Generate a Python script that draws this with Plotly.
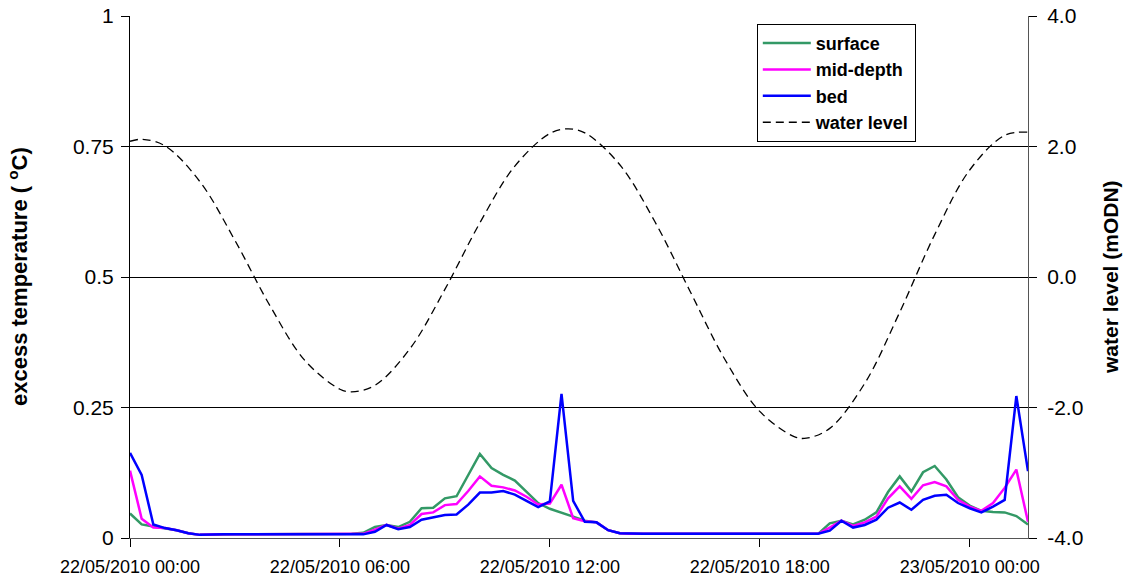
import pandas as pd
import plotly.graph_objects as go

# 20-minute temperature record, 22/05/2010 00:00 to 23/05/2010 01:40
times = pd.date_range("2010-05-22 00:00", periods=78, freq="20min")

surface = [0.047, 0.026, 0.022, 0.019, 0.015, 0.009, 0.006, 0.006, 0.007, 0.007,
           0.007, 0.007, 0.007, 0.007, 0.007, 0.007, 0.007, 0.007, 0.007, 0.008,
           0.010, 0.021, 0.025, 0.021, 0.031, 0.057, 0.058, 0.076, 0.080, 0.120,
           0.161, 0.134, 0.121, 0.110, 0.089, 0.067, 0.056, 0.049, 0.041, 0.033,
           0.030, 0.015, 0.009, 0.008, 0.008, 0.008, 0.008, 0.008, 0.008, 0.008,
           0.008, 0.008, 0.008, 0.008, 0.008, 0.008, 0.008, 0.008, 0.008, 0.008,
           0.028, 0.033, 0.026, 0.035, 0.049, 0.088, 0.118, 0.089, 0.126, 0.138,
           0.112, 0.078, 0.062, 0.052, 0.050, 0.049, 0.042, 0.026]

mid_depth = [0.129, 0.037, 0.020, 0.019, 0.015, 0.009, 0.006, 0.007, 0.007, 0.007,
             0.007, 0.007, 0.007, 0.007, 0.007, 0.007, 0.007, 0.007, 0.007, 0.007,
             0.008, 0.016, 0.025, 0.018, 0.025, 0.046, 0.049, 0.063, 0.065, 0.090,
             0.118, 0.100, 0.097, 0.091, 0.079, 0.064, 0.066, 0.102, 0.038, 0.032,
             0.030, 0.015, 0.009, 0.008, 0.008, 0.008, 0.008, 0.008, 0.008, 0.008,
             0.008, 0.008, 0.008, 0.008, 0.008, 0.008, 0.008, 0.008, 0.008, 0.008,
             0.020, 0.033, 0.023, 0.030, 0.041, 0.076, 0.099, 0.075, 0.101, 0.107,
             0.099, 0.073, 0.060, 0.052, 0.067, 0.096, 0.131, 0.031]

bed = [0.163, 0.121, 0.026, 0.019, 0.015, 0.009, 0.006, 0.007, 0.007, 0.007,
       0.007, 0.007, 0.007, 0.007, 0.007, 0.007, 0.007, 0.007, 0.007, 0.007,
       0.007, 0.012, 0.025, 0.017, 0.021, 0.035, 0.039, 0.044, 0.045, 0.064,
       0.087, 0.087, 0.090, 0.083, 0.071, 0.059, 0.070, 0.276, 0.071, 0.031,
       0.030, 0.015, 0.009, 0.008, 0.008, 0.008, 0.008, 0.008, 0.008, 0.008,
       0.008, 0.008, 0.008, 0.008, 0.008, 0.008, 0.008, 0.008, 0.008, 0.008,
       0.014, 0.033, 0.020, 0.025, 0.035, 0.058, 0.068, 0.054, 0.073, 0.081,
       0.083, 0.067, 0.057, 0.049, 0.060, 0.073, 0.272, 0.128]

# water level (mODN)
wl_times = ["2010-05-22 00:00", "2010-05-22 00:20", "2010-05-22 01:00", "2010-05-22 02:00",
            "2010-05-22 03:00", "2010-05-22 04:00", "2010-05-22 05:00", "2010-05-22 06:00",
            "2010-05-22 06:20", "2010-05-22 07:00", "2010-05-22 08:00", "2010-05-22 09:00",
            "2010-05-22 10:00", "2010-05-22 11:00", "2010-05-22 12:00", "2010-05-22 12:30",
            "2010-05-22 13:00", "2010-05-22 14:00", "2010-05-22 15:00", "2010-05-22 16:00",
            "2010-05-22 17:00", "2010-05-22 18:00", "2010-05-22 19:00", "2010-05-22 19:20",
            "2010-05-22 20:00", "2010-05-22 21:00", "2010-05-22 22:00", "2010-05-22 23:00",
            "2010-05-23 00:00", "2010-05-23 01:00", "2010-05-23 01:40"]
water_level = [2.08, 2.11, 2.01, 1.46, 0.56, -0.44, -1.28, -1.72,
               -1.76, -1.66, -1.10, -0.19, 0.83, 1.70, 2.20, 2.27,
               2.21, 1.72, 0.85, -0.21, -1.26, -2.06, -2.45, -2.47,
               -2.32, -1.63, -0.54, 0.65, 1.64, 2.17, 2.22]

left_ticks = [0, 0.25, 0.5, 0.75, 1]
left_labels = ["0", "0.25", "0.5", "0.75", "1"]
right_ticks = [-4, -2, 0, 2, 4]
right_labels = ["-4.0", "-2.0", "0.0", "2.0", "4.0"]

FONT = "Arial, Liberation Sans, sans-serif"

fig = go.Figure()
fig.add_trace(go.Scatter(x=times, y=surface, name="surface", mode="lines",
                         line=dict(color="#339966", width=2.5)))
fig.add_trace(go.Scatter(x=times, y=mid_depth, name="mid-depth", mode="lines",
                         line=dict(color="#FF00FF", width=2.5)))
fig.add_trace(go.Scatter(x=times, y=bed, name="bed", mode="lines",
                         line=dict(color="#0000FF", width=2.5)))
fig.add_trace(go.Scatter(x=wl_times, y=water_level, name="water level", mode="lines",
                         yaxis="y2",
                         line=dict(color="black", width=1.3, dash="8px,5px",
                                   shape="spline", smoothing=1)))

fig.update_layout(
    width=1123, height=585, autosize=False,
    plot_bgcolor="white", paper_bgcolor="white",
    margin=dict(l=130, r=95, t=16, b=47, autoexpand=False),
    font=dict(family=FONT, size=21, color="black"),
    showlegend=True,
    legend=dict(x=0.698, y=0.985, xanchor="left", yanchor="top",
                bordercolor="black", borderwidth=1, bgcolor="white",
                font=dict(size=18, weight="bold"), tracegroupgap=0,
                itemwidth=48),
    xaxis=dict(type="date", range=["2010-05-22 00:00", "2010-05-23 01:40"],
               tick0="2010-05-22 00:00", dtick=6 * 3600 * 1000,
               tickformat="%d/%m/%Y %H:%M",
               ticks="outside", ticklen=8, tickcolor="black",
               showline=True, linecolor="#555555", linewidth=1,
               showgrid=False, zeroline=False, automargin=False,
               tickfont=dict(size=18), ticklabelstandoff=4),
    yaxis=dict(range=[0, 1], tickvals=left_ticks, ticktext=left_labels,
               ticks="outside", ticklen=8, tickcolor="black",
               showline=True, linecolor="black", linewidth=1,
               showgrid=True, gridcolor="black", gridwidth=1, zeroline=False,
               automargin=False, tickfont=dict(size=21), ticklabelstandoff=3,
               ticklabeloverflow="allow"),
    yaxis2=dict(range=[-4, 4], tickvals=right_ticks, ticktext=right_labels,
                overlaying="y", side="right",
                ticks="outside", ticklen=8, tickcolor="black",
                showline=True, linecolor="#555555", linewidth=1,
                showgrid=False, zeroline=False, automargin=False,
                tickfont=dict(size=21), ticklabelstandoff=6,
                ticklabeloverflow="allow"),
    annotations=[
        dict(text="excess temperature ( <sup>o</sup>C)", xref="paper", yref="paper",
             x=-0.1247, y=0.5, xanchor="center", yanchor="middle", textangle=-90,
             showarrow=False, font=dict(family=FONT, size=22, weight="bold")),
        dict(text="water level (mODN)", xref="paper", yref="paper",
             x=1.0913, y=0.5, xanchor="center", yanchor="middle", textangle=-90,
             showarrow=False, font=dict(family=FONT, size=21, weight="bold")),
    ],
)

# remove the default 8px page margin so the figure fills the window exactly
fig.write_html("out.html",
               config={"displayModeBar": False},
               post_script="document.body.style.margin='0px';document.body.style.overflow='hidden';")
